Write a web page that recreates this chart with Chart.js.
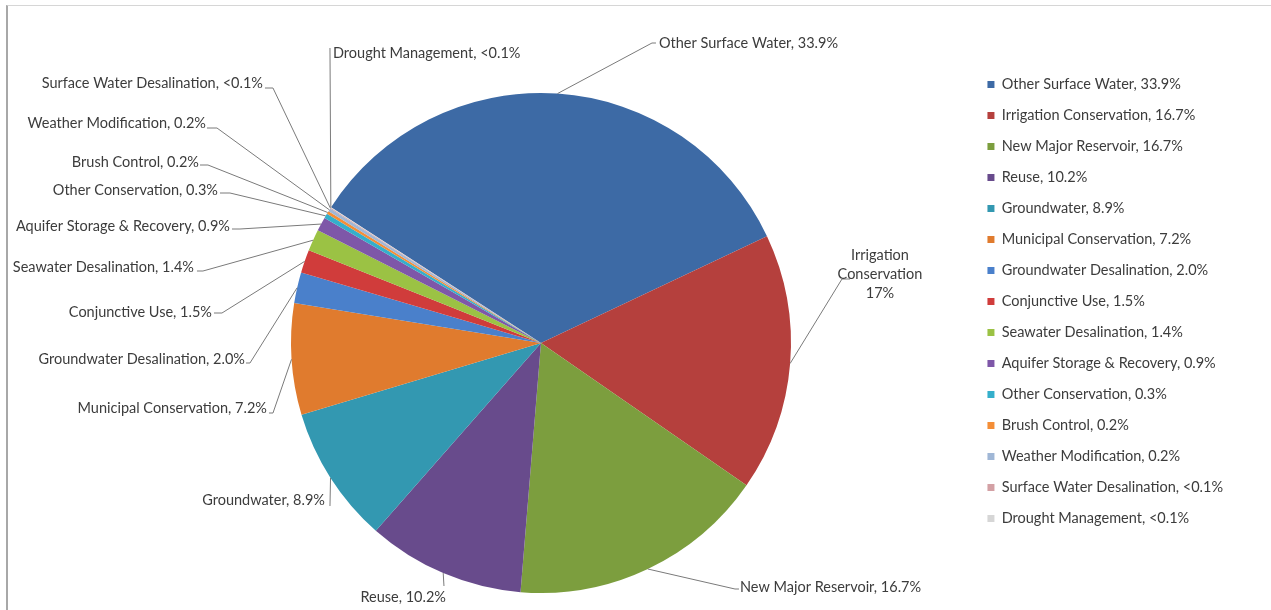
<!DOCTYPE html>
<html>
<head>
<meta charset="utf-8">
<script src="https://cdn.jsdelivr.net/npm/chart.js@4.4.1/dist/chart.umd.min.js"></script>
<style>
  html, body { margin: 0; padding: 0; background: #fff; }
  #wrap { position: relative; width: 1271px; height: 610px; overflow: hidden; }
  #frame { position: absolute; left: 6px; top: 5px; width: 1300px; height: 700px;
           border-top: 1px solid #d6d6d6; border-left: 2px solid #a8a8a8; pointer-events: none; }
</style>
</head>
<body>
<div id="wrap">
  <canvas id="pie"></canvas>
  <div id="frame"></div>
</div>
<script>
// strategy shares, in legend order (clockwise from "Other Surface Water")
const categories = [
  'Other Surface Water', 'Irrigation Conservation', 'New Major Reservoir', 'Reuse',
  'Groundwater', 'Municipal Conservation', 'Groundwater Desalination', 'Conjunctive Use',
  'Seawater Desalination', 'Aquifer Storage & Recovery', 'Other Conservation',
  'Brush Control', 'Weather Modification', 'Surface Water Desalination', 'Drought Management'
];
const shares = [33.9, 16.7, 16.7, 10.2, 8.9, 7.2, 2.0, 1.5, 1.4, 0.9, 0.3, 0.2, 0.2, 0.05, 0.05];
const shareText = ['33.9%', '16.7%', '16.7%', '10.2%', '8.9%', '7.2%', '2.0%', '1.5%',
                   '1.4%', '0.9%', '0.3%', '0.2%', '0.2%', '<0.1%', '<0.1%'];
const sliceColors = [
  '#3d6aa5', '#b5403d', '#7c9e3e', '#684b8c', '#3398b1', '#e07b2e',
  '#4a80cb', '#d03c3b', '#9bc244', '#7e57a8', '#35afcb', '#f48e37',
  '#a0b7d6', '#d3a0a4', '#d6d6d6'
];

const fontFamily = 'Lato';
const fontSize = 14.5;
const textColor = '#3c3c3c';
const leaderColor = '#7a7a7a';

// callout placement: text anchor offset from pie centre, alignment, and leader knees (relative to the text anchor)
const callouts = [
  { dx: 118,  dy: -300, align: 'left',   knees: [[-7, 0], [-3, 0]] },
  { dx: 339,  dy: -88,  align: 'center', knees: [[-38, 24], [-30, 24]],
    lines: ['Irrigation', 'Conservation', '17%'] },
  { dx: 199,  dy: 244,  align: 'left',   knees: [[-5, 2], [-1, 2]] },
  { dx: -95,  dy: 254,  align: 'right',  knees: [[-2, -11]] },
  { dx: -216, dy: 157,  align: 'right',  knees: [[5, 6]] },
  { dx: -274, dy: 65,   align: 'right',  knees: [[6, 5], [2, 5]] },
  { dx: -296, dy: 16,   align: 'right',  knees: [[5, 4], [1, 4]] },
  { dx: -329, dy: -31,  align: 'right',  knees: [[10, 1], [2, 1]] },
  { dx: -347, dy: -76,  align: 'right',  knees: [[9, 4], [3, 4]] },
  { dx: -311, dy: -117, align: 'right',  knees: [[10, 3], [2, 3]] },
  { dx: -323, dy: -153, align: 'right',  knees: [[12, 3], [2, 3]] },
  { dx: -342, dy: -181, align: 'right',  knees: [[9, 3], [1, 3]] },
  { dx: -335, dy: -220, align: 'right',  knees: [[11, 5], [1, 5]] },
  { dx: -278, dy: -260, align: 'right',  knees: [[10, 5], [2, 5]] },
  { dx: -208, dy: -290, align: 'left',   knees: [[-3, -5]] }
];

const legendText = categories.map((c, i) => c + ', ' + shareText[i]);

// legend should start at x=971, so work out the right padding from the widest entry
const measure = document.createElement('canvas').getContext('2d');
measure.font = fontSize + 'px ' + fontFamily;
const widest = Math.max(...legendText.map(t => measure.measureText(t).width));
const legendLeft = 971;
const legendPad = 16.5;
const padRight = Math.max(0, Math.round(1271 - (legendLeft + legendPad + 7 + fontSize / 2 + widest + 10)));

const calloutPlugin = {
  id: 'callouts',
  afterDatasetsDraw(chart) {
    const ctx = chart.ctx;
    const arcs = chart.getDatasetMeta(0).data;
    ctx.save();
    ctx.font = fontSize + 'px ' + fontFamily;
    ctx.fillStyle = textColor;
    ctx.strokeStyle = leaderColor;
    ctx.lineWidth = 1;
    ctx.textBaseline = 'middle';
    arcs.forEach((arc, i) => {
      const spec = callouts[i];
      const p = arc.getProps(['x', 'y', 'outerRadius', 'startAngle', 'endAngle'], true);
      const mid = (p.startAngle + p.endAngle) / 2;
      const ax = p.x + Math.cos(mid) * p.outerRadius;
      const ay = p.y + Math.sin(mid) * p.outerRadius;
      const tx = p.x + spec.dx;
      const ty = p.y + spec.dy;
      ctx.beginPath();
      ctx.moveTo(ax, ay);
      spec.knees.forEach(([kx, ky]) => ctx.lineTo(tx + kx, ty + ky));
      ctx.stroke();
      ctx.textAlign = spec.align;
      const lines = spec.lines || [legendText[i]];
      lines.forEach((t, j) => ctx.fillText(t, tx, ty + j * 19));
    });
    ctx.restore();
  }
};

Chart.defaults.font.family = fontFamily;
Chart.defaults.color = textColor;

new Chart(document.getElementById('pie'), {
  type: 'pie',
  data: {
    labels: legendText,
    datasets: [{
      data: shares,
      backgroundColor: sliceColors,
      borderWidth: 0
    }]
  },
  options: {
    responsive: true,
    maintainAspectRatio: false,
    animation: false,
    devicePixelRatio: 1,
    rotation: -57.1,
    layout: { padding: { left: 111, right: padRight, top: 10, bottom: 17 } },
    plugins: {
      tooltip: { enabled: false },
      // empty title used only as a spacer so the pie sits lower than the legend
      title: { display: true, text: '', font: { size: 12 }, padding: { top: 68.6, bottom: 0 } },
      legend: {
        position: 'right',
        labels: {
          boxWidth: 7,
          boxHeight: 7,
          padding: legendPad,
          color: textColor,
          font: { size: fontSize }
        }
      }
    }
  },
  plugins: [calloutPlugin]
});
</script>
</body>
</html>
